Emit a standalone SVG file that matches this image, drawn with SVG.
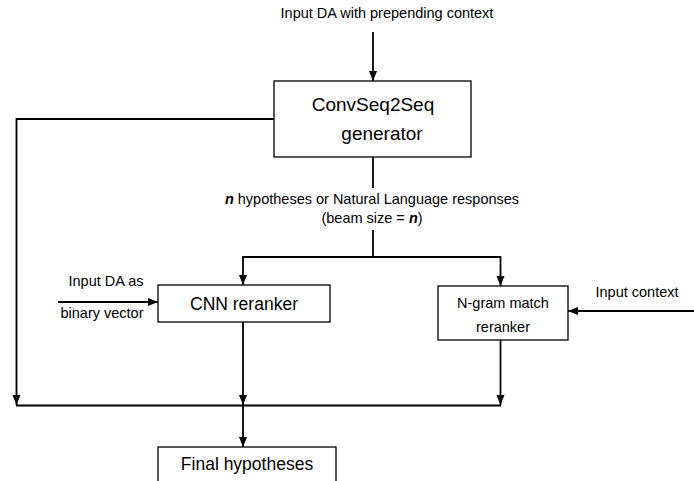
<svg xmlns="http://www.w3.org/2000/svg" width="694" height="481" viewBox="0 0 694 481">
<style>
text{font-family:"Liberation Sans",Arial,sans-serif;fill:#000;text-anchor:middle}
.s{font-size:14.5px}
.m{font-size:17.5px}
.l{font-size:19px}
.box{fill:#fff;stroke:#000;stroke-width:1.3}
.c{fill:none;stroke:#000;stroke-width:1.8}
.a{marker-end:url(#ah)}
</style>
<defs>
<marker id="ah" markerUnits="userSpaceOnUse" markerWidth="10" markerHeight="10" viewBox="0 0 10 10" refX="10" refY="5" orient="auto">
<path d="M0,1 L10,5 L0,9 Z" fill="#000"/>
</marker>
</defs>
<g id="connectors">
<path class="c a" d="M373,32 V81"/>
<path class="c a" d="M274,119 H16.5 V405"/>
<path class="c" d="M16,405.5 H501"/>
<path class="c" d="M373,157 V188"/>
<path class="c" d="M373,230 V257"/>
<path class="c a" d="M373,257 H243 V285"/>
<path class="c a" d="M373,257 H500.5 V286"/>
<path class="c a" d="M58,302 H158"/>
<path class="c a" d="M694,311 H568"/>
<path class="c a" d="M243,322 V405"/>
<path class="c a" d="M500.5,340 V405"/>
<path class="c a" d="M243,405 V447"/>
</g>
<g id="input-label"><text class="s" x="387" y="18">Input DA with prepending context</text></g>
<g id="generator">
<rect class="box" x="274" y="81" width="197" height="76"/>
<text class="l" x="373" y="111">ConvSeq2Seq</text>
<text class="l" x="382" y="140">generator</text>
</g>
<g id="hyp-label">
<text class="s" x="372" y="204"><tspan font-weight="bold" font-style="italic">n</tspan> hypotheses or Natural Language responses</text>
<text class="s" x="372" y="223">(beam size = <tspan font-weight="bold" font-style="italic">n</tspan>)</text>
</g>
<g id="da-label">
<text class="s" x="106" y="286">Input DA as</text>
<text class="s" x="102" y="318">binary vector</text>
</g>
<g id="cnn">
<rect class="box" x="158" y="285" width="172" height="37"/>
<text class="m" x="244" y="310">CNN reranker</text>
</g>
<g id="ngram">
<rect class="box" x="438" y="286" width="130" height="54"/>
<text class="s" x="503" y="308">N-gram match</text>
<text class="s" x="503" y="332">reranker</text>
</g>
<g id="context-label"><text class="s" x="637" y="297">Input context</text></g>
<g id="final">
<rect class="box" x="158" y="447" width="178" height="40"/>
<text class="m" x="247" y="470">Final hypotheses</text>
</g>
</svg>
